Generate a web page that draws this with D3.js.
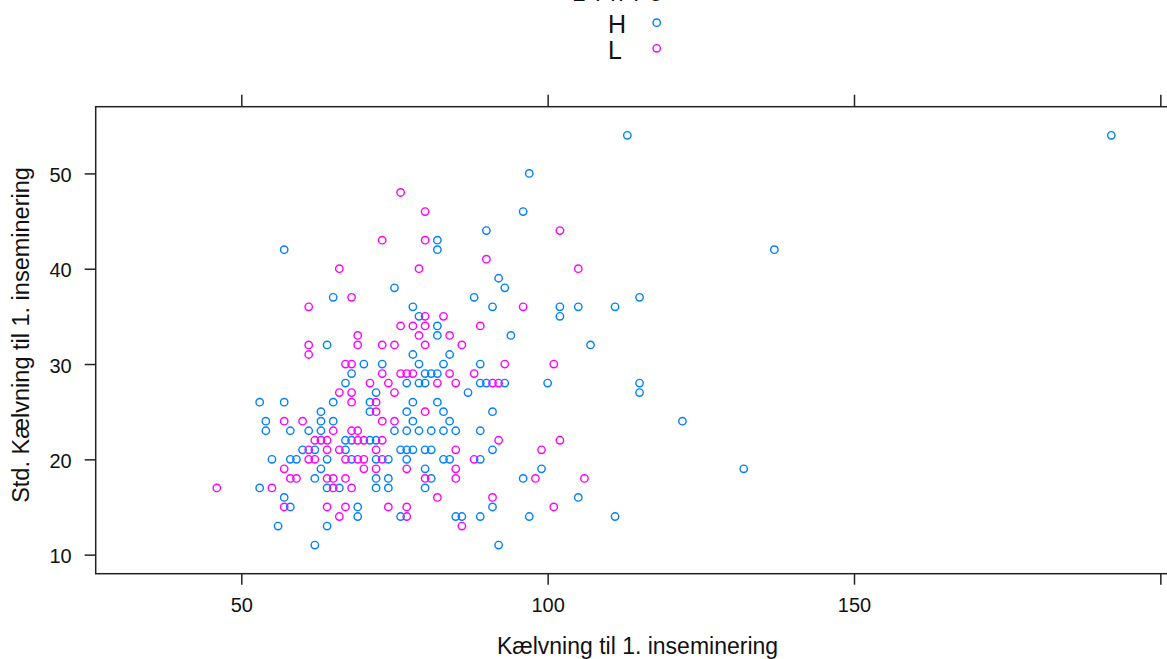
<!DOCTYPE html>
<html>
<head>
<meta charset="utf-8">
<script src="https://cdn.jsdelivr.net/npm/d3@7/dist/d3.min.js"></script>
<style>
html,body{margin:0;padding:0;background:#fff;}
svg{display:block;}
text{font-family:"Liberation Sans",Arial,sans-serif;fill:#111;}
</style>
</head>
<body>
<svg id="chart" width="1167" height="659"></svg>
<script>
// ---- data ----
const groups = ["H", "L"];
const groupColors = ["#0080ff", "#ff00ff"];
const xTicks = [50, 100, 150, 200];
const xTickLabels = ["50", "100", "150", ""];
const yTicks = [10, 20, 30, 40, 50];
const legendTitle = "Linie";
const xLabel = "Kælvning til 1. inseminering";
const yLabel = "Std. Kælvning til 1. inseminering";

const hX = [57,82,82,75,65,78,79,82,82,64,78,70,73,79,68,80,81,82,67,77,79,80,72,53,57,65,71,78,82,63,71,77,54,63,65,78,54,58,61,63,75,77,79,81,67,68,71,72,60,62,67,76,77,78,80,81,55,58,59,64,68,72,74,77,63,80,62,72,74,81,53,64,66,72,74,80,57,58,69,69,76,56,64,62,
  97,96,90,92,93,88,91,102,105,111,102,94,107,84,83,89,89,90,93,100,87,83,91,84,83,85,89,91,83,84,89,99,96,105,91,85,86,89,97,111,92,113,192,137,115,115,115,122,132];
const hY = [42,43,42,38,37,36,35,34,33,32,31,30,30,30,29,29,29,29,28,28,28,28,27,26,26,26,26,26,26,25,25,25,24,24,24,24,23,23,23,23,23,23,23,23,22,22,22,22,21,21,21,21,21,21,21,21,20,20,20,20,20,20,20,20,19,19,18,18,18,18,17,17,17,17,17,17,16,15,15,14,14,13,13,11,
  50,46,44,39,38,37,36,36,36,36,35,33,32,31,30,30,28,28,28,28,27,25,25,24,23,23,23,21,20,20,20,19,18,16,15,14,14,14,14,14,11,54,54,42,37,28,27,24,19];

const lX = [76,80,73,80,66,79,68,61,80,76,78,80,69,79,61,69,73,75,80,61,67,68,73,76,77,78,71,74,82,66,68,75,68,72,72,80,57,60,73,75,65,68,69,62,63,64,69,70,73,61,64,66,72,61,62,67,69,70,73,57,70,72,77,58,59,64,65,67,80,55,65,68,57,64,67,74,77,66,77,
  102,90,105,96,83,89,84,86,93,101,84,88,85,91,92,92,102,85,99,88,85,85,98,106,82,91,101,86,46];
const lY = [48,46,43,43,40,40,37,36,35,34,34,34,33,33,32,32,32,32,32,31,30,30,29,29,29,29,28,28,28,27,27,27,26,26,25,25,24,24,24,24,23,23,23,22,22,22,22,22,22,21,21,21,21,20,20,20,20,20,20,19,19,19,19,18,18,18,18,18,18,17,17,17,15,15,15,15,15,14,14,
  44,41,40,36,35,34,33,32,30,30,29,29,28,28,28,22,22,21,21,20,19,18,18,18,16,16,15,13,17];

const series = [
  {name: groups[0], xs: hX, ys: hY, color: groupColors[0]},
  {name: groups[1], xs: lX, ys: lY, color: groupColors[1]}
];

// ---- layout ----
const svg = d3.select("#chart");
const panel = {left: 95.7, top: 106.7, bottom: 573.7, right: 1172.6};
const x = d3.scaleLinear().domain([26.236, 202]).range([panel.left, panel.right]);
const y = d3.scaleLinear().domain([8, 57]).range([panel.bottom, panel.top]);
const axisColor = "#222";

// legend
svg.append("text").attr("x", 617).attr("y", 0.5).attr("text-anchor", "middle")
  .attr("textLength", 90).attr("lengthAdjust", "spacing")
  .style("font-size", "24px").text(legendTitle);
const legend = svg.append("g");
groups.forEach((g, i) => {
  const cy = [22.7, 48.3][i];
  legend.append("text").attr("x", 608).attr("y", cy + 10.5)
    .style("font-size", "25px").text(g);
  legend.append("circle").attr("cx", 656.7).attr("cy", cy).attr("r", 3.7)
    .attr("fill", "none").attr("stroke", groupColors[i]).attr("stroke-width", 1.4);
});

// axes
const fmt = d3.format("d");
const gB = svg.append("g").attr("transform", `translate(0,${panel.bottom})`)
  .call(d3.axisBottom(x).tickValues(xTicks).tickSize(11).tickSizeOuter(0).tickPadding(13)
    .tickFormat((d, i) => xTickLabels[i]));
const gT = svg.append("g").attr("transform", `translate(0,${panel.top})`)
  .call(d3.axisTop(x).tickValues(xTicks).tickSize(12).tickSizeOuter(0).tickFormat(""));
const gL = svg.append("g").attr("transform", `translate(${panel.left},0)`)
  .call(d3.axisLeft(y).tickValues(yTicks).tickSize(11).tickSizeOuter(0).tickPadding(13).tickFormat(fmt));
[gB, gT, gL].forEach(g => {
  g.select(".domain").remove();
  g.selectAll("line").attr("stroke", axisColor).attr("stroke-width", 1.5);
  g.selectAll("text").style("font-size", "20px").attr("fill", "#111")
    .style("font-family", '"Liberation Sans", Arial, sans-serif');
});
gL.selectAll("text").attr("dy", "0.4em");

// panel border
svg.append("rect")
  .attr("x", panel.left).attr("y", panel.top)
  .attr("width", panel.right - panel.left).attr("height", panel.bottom - panel.top)
  .attr("fill", "none").attr("stroke", axisColor).attr("stroke-width", 1.5);

// points
series.forEach(s => {
  svg.append("g").selectAll("circle")
    .data(s.xs.map((v, i) => [v, s.ys[i]]))
    .join("circle")
    .attr("cx", d => x(d[0])).attr("cy", d => y(d[1]))
    .attr("r", 3.7).attr("fill", "none")
    .attr("stroke", s.color).attr("stroke-width", 1.4);
});

// axis labels
svg.append("text").attr("x", 637.5).attr("y", 654).attr("text-anchor", "middle")
  .style("font-size", "23px").text(xLabel);
svg.append("text").attr("transform", "translate(29,335) rotate(-90)")
  .attr("text-anchor", "middle").style("font-size", "23.5px").text(yLabel);
</script>
</body>
</html>
